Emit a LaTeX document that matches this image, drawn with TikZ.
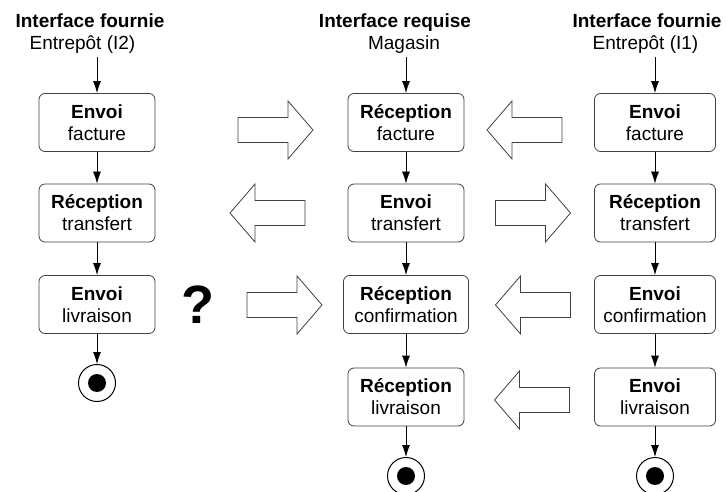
\documentclass[tikz,border=0pt]{standalone}
\usepackage{fontspec}
\setmainfont{Liberation Sans}
\usepackage{tikz}
\usetikzlibrary{arrows.meta}

\tikzset{
  etape/.style={draw=black!75, line width=0.8pt, rounded corners=6pt,
    minimum width=116pt, minimum height=58pt, align=center, inner sep=2pt,
    font=\fontsize{19}{22}\selectfont},
  titre/.style={anchor=base, inner sep=3pt, font=\bfseries\fontsize{19}{22}\selectfont},
  soustitre/.style={anchor=base, inner sep=3pt, font=\fontsize{19}{22}\selectfont},
  fleche/.style={-{Latex[length=12pt,width=8pt]}, line width=0.8pt},
  fin/.style={circle, draw, line width=1pt, minimum size=37pt, inner sep=0pt,
    path picture={\fill (path picture bounding box.center) circle (9pt);}},
  grosse/.style={draw=black!75, line width=0.8pt, fill=white, line join=miter}
}

\newcommand{\flechedroite}[2]{%
  \draw[grosse, shift={(#1,#2)}] (-37.5,-12.5) -- (12.5,-12.5) -- (12.5,-29)
    -- (37.5,0) -- (12.5,29) -- (12.5,12.5) -- (-37.5,12.5) -- cycle;}
\newcommand{\flechegauche}[2]{%
  \draw[grosse, shift={(#1,#2)}, xscale=-1] (-37.5,-12.5) -- (12.5,-12.5) -- (12.5,-29)
    -- (37.5,0) -- (12.5,29) -- (12.5,12.5) -- (-37.5,12.5) -- cycle;}

\begin{document}
\begin{tikzpicture}[x=1pt,y=-1pt]
\useasboundingbox (0,0) rectangle (726,492);

\node[titre] (tg) at (90,28) {Interface fournie};
\node[soustitre] (sg) at (82.5,50) {Entrepôt (I2)};
\node[titre] (tm) at (395,28) {Interface requise};
\node[soustitre] (sm) at (404,50) {Magasin};
\node[titre] (td) at (647,28) {Interface fournie};
\node[soustitre] (sd) at (645.5,50) {Entrepôt (I1)};

\node[etape] (g1) at (97,122.5) {\textbf{Envoi}\\facture};
\node[etape] (g2) at (97,213) {\textbf{Réception}\\transfert};
\node[etape] (g3) at (97,304.5) {\textbf{Envoi}\\livraison};
\node[fin] (fg) at (97,383) {};

\node[etape] (m1) at (406,122.5) {\textbf{Réception}\\facture};
\node[etape] (m2) at (406,213) {\textbf{Envoi}\\transfert};
\node[etape, minimum width=125pt] (m3) at (406,304.5) {\textbf{Réception}\\confirmation};
\node[etape] (m4) at (406,397) {\textbf{Réception}\\livraison};
\node[fin] (fm) at (406,476) {};

\node[etape, minimum width=121pt] (d1) at (655,122.5) {\textbf{Envoi}\\facture};
\node[etape, minimum width=121pt] (d2) at (655,213) {\textbf{Réception}\\transfert};
\node[etape, minimum width=121pt] (d3) at (655,304.5) {\textbf{Envoi}\\confirmation};
\node[etape, minimum width=121pt] (d4) at (655,397) {\textbf{Envoi}\\livraison};
\node[fin] (fd) at (655,476) {};

\node[font=\bfseries\fontsize{54}{60}\selectfont] (q) at (197.5,305) {?};

\draw[fleche] (g1.north |- sg.south) -- (g1.north);
\draw[fleche] (g1) -- (g2);
\draw[fleche] (g2) -- (g3);
\draw[fleche] (g3) -- (fg);

\draw[fleche] (m1.north |- sm.south) -- (m1.north);
\draw[fleche] (m1) -- (m2);
\draw[fleche] (m2) -- (m3);
\draw[fleche] (m3) -- (m4);
\draw[fleche] (m4) -- (fm);

\draw[fleche] (d1.north |- sd.south) -- (d1.north);
\draw[fleche] (d1) -- (d2);
\draw[fleche] (d2) -- (d3);
\draw[fleche] (d3) -- (d4);
\draw[fleche] (d4) -- (fd);

\flechedroite{275.5}{130}
\flechegauche{524.5}{130}
\flechegauche{267.5}{213}
\flechedroite{533}{213}
\flechedroite{284.5}{305}
\flechegauche{533}{305}
\flechegauche{532}{400}
\end{tikzpicture}
\end{document}
